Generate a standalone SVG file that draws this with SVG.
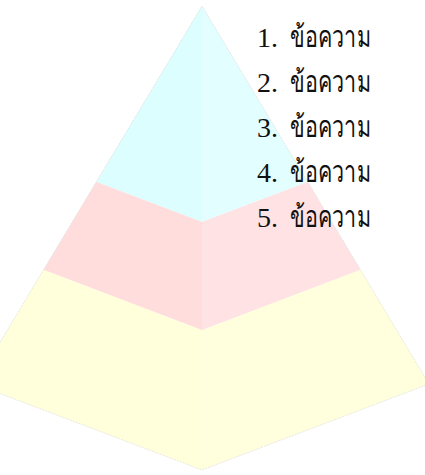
<svg xmlns="http://www.w3.org/2000/svg" width="425" height="475" viewBox="0 0 425 475">
<style>
.face{stroke:none}
.outline{fill:none;stroke:#d8d8d8;stroke-width:0.6;stroke-dasharray:2 1}
.lbl{font-family:"Liberation Serif","Noto Sans CJK SC",serif;font-size:28px;fill:#111}
.th{font-size:30px}
</style>
<rect width="425" height="475" fill="#ffffff"/>
<g id="layer-bottom">
<polygon class="face" fill="#ffffdb" points="43.6,269.8 202,329.9 202,470 -25,384"/>
<polygon class="face" fill="#ffffde" points="202,329.9 360.4,269.8 429,384 202,470"/>
</g>
<g id="layer-middle">
<polygon class="face" fill="#ffdddd" points="96.4,181.8 202,221.8 202,329.9 43.6,269.8"/>
<polygon class="face" fill="#ffe3e4" points="202,221.8 307.6,181.8 360.4,269.8 202,329.9"/>
</g>
<g id="layer-top">
<polygon class="face" fill="#dcfefe" points="202,6 202,221.8 96.4,181.8"/>
<polygon class="face" fill="#e3fefe" points="202,6 307.6,181.8 202,221.8"/>
</g>
<g id="connectors">
<polyline class="outline" points="-25,384 202,6 429,384"/>
<polyline class="outline" points="-25,384 202,470 429,384"/>
</g>
<g id="labels">
<text class="lbl" y="47"><tspan x="257">1.</tspan><tspan class="th" x="290" textLength="81" lengthAdjust="spacingAndGlyphs">ข้อความ</tspan></text>
<text class="lbl" y="92"><tspan x="257">2.</tspan><tspan class="th" x="290" textLength="81" lengthAdjust="spacingAndGlyphs">ข้อความ</tspan></text>
<text class="lbl" y="137"><tspan x="257">3.</tspan><tspan class="th" x="290" textLength="81" lengthAdjust="spacingAndGlyphs">ข้อความ</tspan></text>
<text class="lbl" y="182"><tspan x="257">4.</tspan><tspan class="th" x="290" textLength="81" lengthAdjust="spacingAndGlyphs">ข้อความ</tspan></text>
<text class="lbl" y="227"><tspan x="257">5.</tspan><tspan class="th" x="290" textLength="81" lengthAdjust="spacingAndGlyphs">ข้อความ</tspan></text>
</g>
</svg>
